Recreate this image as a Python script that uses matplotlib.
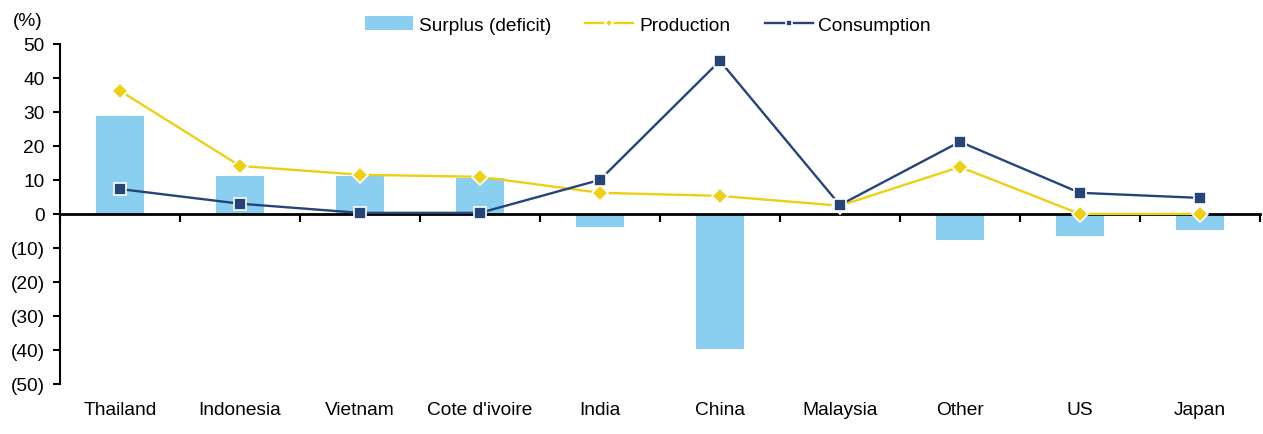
import matplotlib.pyplot as plt
import numpy as np

plt.rcParams['font.family'] = ['Liberation Sans', 'DejaVu Sans']

# Datos (%)
categorias = ['Thailand', 'Indonesia', 'Vietnam', "Cote d'ivoire", 'India',
              'China', 'Malaysia', 'Other', 'US', 'Japan']
superavit = [28.8, 11.2, 11.0, 10.6, -3.8, -39.7, 0.0, -7.6, -6.5, -4.7]
produccion = [36.2, 14.1, 11.5, 10.9, 6.2, 5.3, 2.4, 13.8, 0.0, 0.0]
consumo = [7.3, 3.0, 0.3, 0.3, 10.0, 45.0, 2.6, 21.2, 6.2, 4.7]

x = np.arange(len(categorias))
fs = 13.8

fig = plt.figure(figsize=(12.63, 4.35), dpi=100)
ax = fig.add_axes([0.0475, 0.115, 0.95, 0.782])

b = ax.bar(x, superavit, width=0.4, color='#8ACEF0', label='Surplus (deficit)', zorder=2)
lp, = ax.plot(x, produccion, color='#EDCF14', lw=1.7, marker='D', ms=8,
              mec='white', mew=1.2, label='Production', zorder=3)
lc, = ax.plot(x, consumo, color='#264478', lw=1.7, marker='s', ms=9,
              mec='white', mew=1.2, label='Consumption', zorder=4)

ax.set_xlim(-0.5, len(categorias) - 0.5)
ax.set_ylim(-50, 50)
ax.set_yticks(np.arange(-50, 51, 10))
ax.set_yticklabels([f'({abs(v)})' if v < 0 else str(v) for v in range(-50, 51, 10)])

# Eje x en el cero con marcas entre categorías
ax.spines['bottom'].set_position(('data', 0))
ax.spines['bottom'].set_linewidth(2)
ax.spines['left'].set_linewidth(1.5)
ax.spines['top'].set_visible(False)
ax.spines['right'].set_visible(False)
ax.set_xticks(np.arange(-0.5, len(categorias), 1))
ax.set_xticklabels([])
ax.tick_params(axis='x', direction='out', length=6, width=1.5)
ax.tick_params(axis='y', direction='out', length=5, width=1.5, labelsize=fs, pad=6)

sec = ax.secondary_xaxis('bottom')
sec.set_xticks(x)
sec.set_xticklabels(categorias, fontsize=fs)
sec.tick_params(length=0, pad=12)
sec.spines['bottom'].set_visible(False)

fig.text(0.01, 0.94, '(%)', fontsize=fs)
fig.legend([b, lp, lc], ['Surplus (deficit)', 'Production', 'Consumption'],
           loc='upper center', bbox_to_anchor=(0.513, 1.0), ncol=3,
           frameon=False, fontsize=fs, handlelength=2.5, columnspacing=1.8,
           handletextpad=0.3, markerscale=0.5)

fig.savefig('out.png', dpi=100)
